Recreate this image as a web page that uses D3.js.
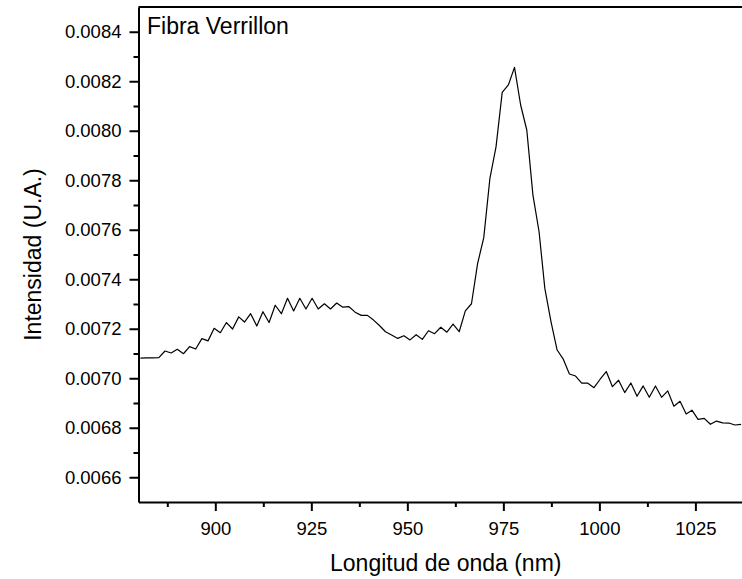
<!DOCTYPE html>
<html>
<head>
<meta charset="utf-8">
<script src="https://cdn.jsdelivr.net/npm/d3@7/dist/d3.min.js"></script>
<style>
	html, body {
		padding: 0;
		margin: 0;
		background: #fff;
	}
	svg text {
		font-family: "Liberation Sans", Arial, sans-serif;
		fill: #000;
	}
</style>
</head>
<body>
<script>
	var width = 742, height = 579;

	// data
	var wavelength = [
		880.5, 882.1, 883.7, 885.3, 886.9, 888.5, 890.1, 891.7, 893.3, 894.9,
		896.5, 898.1, 899.7, 901.3, 902.9, 904.5, 906.1, 907.6, 909.2, 910.8,
		912.4, 914.0, 915.6, 917.2, 918.8, 920.4, 922.0, 923.6, 925.2, 926.8,
		928.4, 930.0, 931.6, 933.2, 934.8, 936.4, 938.0, 939.6, 941.2, 942.8,
		944.3, 945.9, 947.5, 949.1, 950.7, 952.3, 953.9, 955.5, 957.1, 958.7,
		960.3, 961.9, 963.5, 965.1, 966.7, 968.3, 969.9, 971.5, 973.1, 974.7,
		976.3, 977.9, 979.5, 981.1, 982.7, 984.3, 985.8, 987.4, 989.0, 990.6,
		992.2, 993.8, 995.4, 997.0, 998.6, 1000.2, 1001.8, 1003.4, 1005.0, 1006.6,
		1008.2, 1009.8, 1011.4, 1013.0, 1014.6, 1016.2, 1017.8, 1019.4, 1021.0, 1022.6,
		1024.1, 1025.7, 1027.3, 1028.9, 1030.5, 1032.1, 1033.7, 1035.3, 1036.9
	];
	var intensity = [
		0.007081, 0.007082, 0.007082, 0.007083, 0.007110, 0.007102, 0.007117, 0.007099, 0.007128, 0.007118,
		0.007160, 0.007151, 0.007202, 0.007184, 0.007225, 0.007199, 0.007248, 0.007227, 0.007261, 0.007211,
		0.007269, 0.007225, 0.007295, 0.007261, 0.007323, 0.007272, 0.007323, 0.007280, 0.007323, 0.007280,
		0.007301, 0.007280, 0.007304, 0.007287, 0.007289, 0.007267, 0.007254, 0.007254, 0.007235, 0.007212,
		0.007188, 0.007175, 0.007161, 0.007172, 0.007155, 0.007176, 0.007157, 0.007192, 0.007180, 0.007206,
		0.007186, 0.007219, 0.007188, 0.007272, 0.007301, 0.007464, 0.007568, 0.007808, 0.007936, 0.008155,
		0.008185, 0.008256, 0.008104, 0.008003, 0.007740, 0.007592, 0.007363, 0.007229, 0.007114, 0.007077,
		0.007017, 0.007009, 0.006980, 0.006980, 0.006962, 0.006996, 0.007027, 0.006966, 0.006992, 0.006942,
		0.006981, 0.006927, 0.006969, 0.006923, 0.006969, 0.006923, 0.006949, 0.006887, 0.006907, 0.006856,
		0.006871, 0.006834, 0.006838, 0.006814, 0.006827, 0.006820, 0.006819, 0.006811, 0.006814
	];

	var xTicks = [900, 925, 950, 975, 1000, 1025];
	var xMinor = [887.5, 912.5, 937.5, 962.5, 987.5, 1012.5, 1037.5];
	var yTicks = [0.0066, 0.0068, 0.0070, 0.0072, 0.0074, 0.0076, 0.0078, 0.0080, 0.0082, 0.0084];
	var yMinor = [0.0067, 0.0069, 0.0071, 0.0073, 0.0075, 0.0077, 0.0079, 0.0081, 0.0083];

	var plotL = 138.5, plotR = 753, plotT = 7, plotB = 502;

	var svg = d3.select('body').append('svg')
		.attr('width', width)
		.attr('height', height);

	var x = d3.scaleLinear().domain([880, 1040]).range([plotL, plotR]);
	var y = d3.scaleLinear().domain([0.0065, 0.0085]).range([plotB, plotT]);

	/* frame: top and right lines */
	svg.append('line')
		.attr('x1', plotL).attr('x2', plotR)
		.attr('y1', plotT).attr('y2', plotT)
		.attr('stroke', '#000').attr('stroke-width', 2);
	svg.append('line')
		.attr('x1', plotR).attr('x2', plotR)
		.attr('y1', plotT).attr('y2', plotB)
		.attr('stroke', '#000').attr('stroke-width', 2);

	/* bottom axis */
	svg.append('g')
		.attr('transform', 'translate(0,' + plotB + ')')
		.call(d3.axisBottom(x).tickValues(xTicks).tickSize(9).tickPadding(11).tickSizeOuter(0).tickFormat(d3.format('d')));
	svg.append('g')
		.attr('transform', 'translate(0,' + plotB + ')')
		.call(d3.axisBottom(x).tickValues(xMinor).tickSize(5).tickSizeOuter(0).tickFormat(''))
		.select('.domain').remove();

	/* left axis */
	svg.append('g')
		.attr('transform', 'translate(' + plotL + ',0)')
		.call(d3.axisLeft(y).tickValues(yTicks).tickSize(9).tickPadding(8).tickSizeOuter(0).tickFormat(d3.format('.4f')));
	svg.append('g')
		.attr('transform', 'translate(' + plotL + ',0)')
		.call(d3.axisLeft(y).tickValues(yMinor).tickSize(5).tickSizeOuter(0).tickFormat(''))
		.select('.domain').remove();

	svg.selectAll('.domain').attr('stroke', '#000').attr('stroke-width', 2);
	svg.selectAll('.tick line').attr('stroke', '#000').attr('stroke-width', 2);
	svg.selectAll('.tick text').style('font-size', '18.5px').attr('fill', '#000');

	/* spectrum */
	var line = d3.line()
		.x(function(d, i) { return x(wavelength[i]); })
		.y(function(d) { return y(d); });

	svg.append('path')
		.datum(intensity)
		.attr('d', line)
		.attr('fill', 'none')
		.attr('stroke', '#000')
		.attr('stroke-width', 1.2)
		.attr('stroke-linejoin', 'round');

	/* labels */
	svg.append('text')
		.attr('x', (plotL + plotR) / 2)
		.attr('y', 571)
		.attr('text-anchor', 'middle')
		.style('font-size', '23px')
		.text('Longitud de onda (nm)');

	svg.append('text')
		.attr('transform', 'translate(41,' + (plotT + plotB) / 2 + ') rotate(-90)')
		.attr('text-anchor', 'middle')
		.style('font-size', '23px')
		.text('Intensidad (U.A.)');

	svg.append('text')
		.attr('x', 147)
		.attr('y', 34)
		.style('font-size', '23px')
		.text('Fibra Verrillon');
</script>
</body>
</html>
